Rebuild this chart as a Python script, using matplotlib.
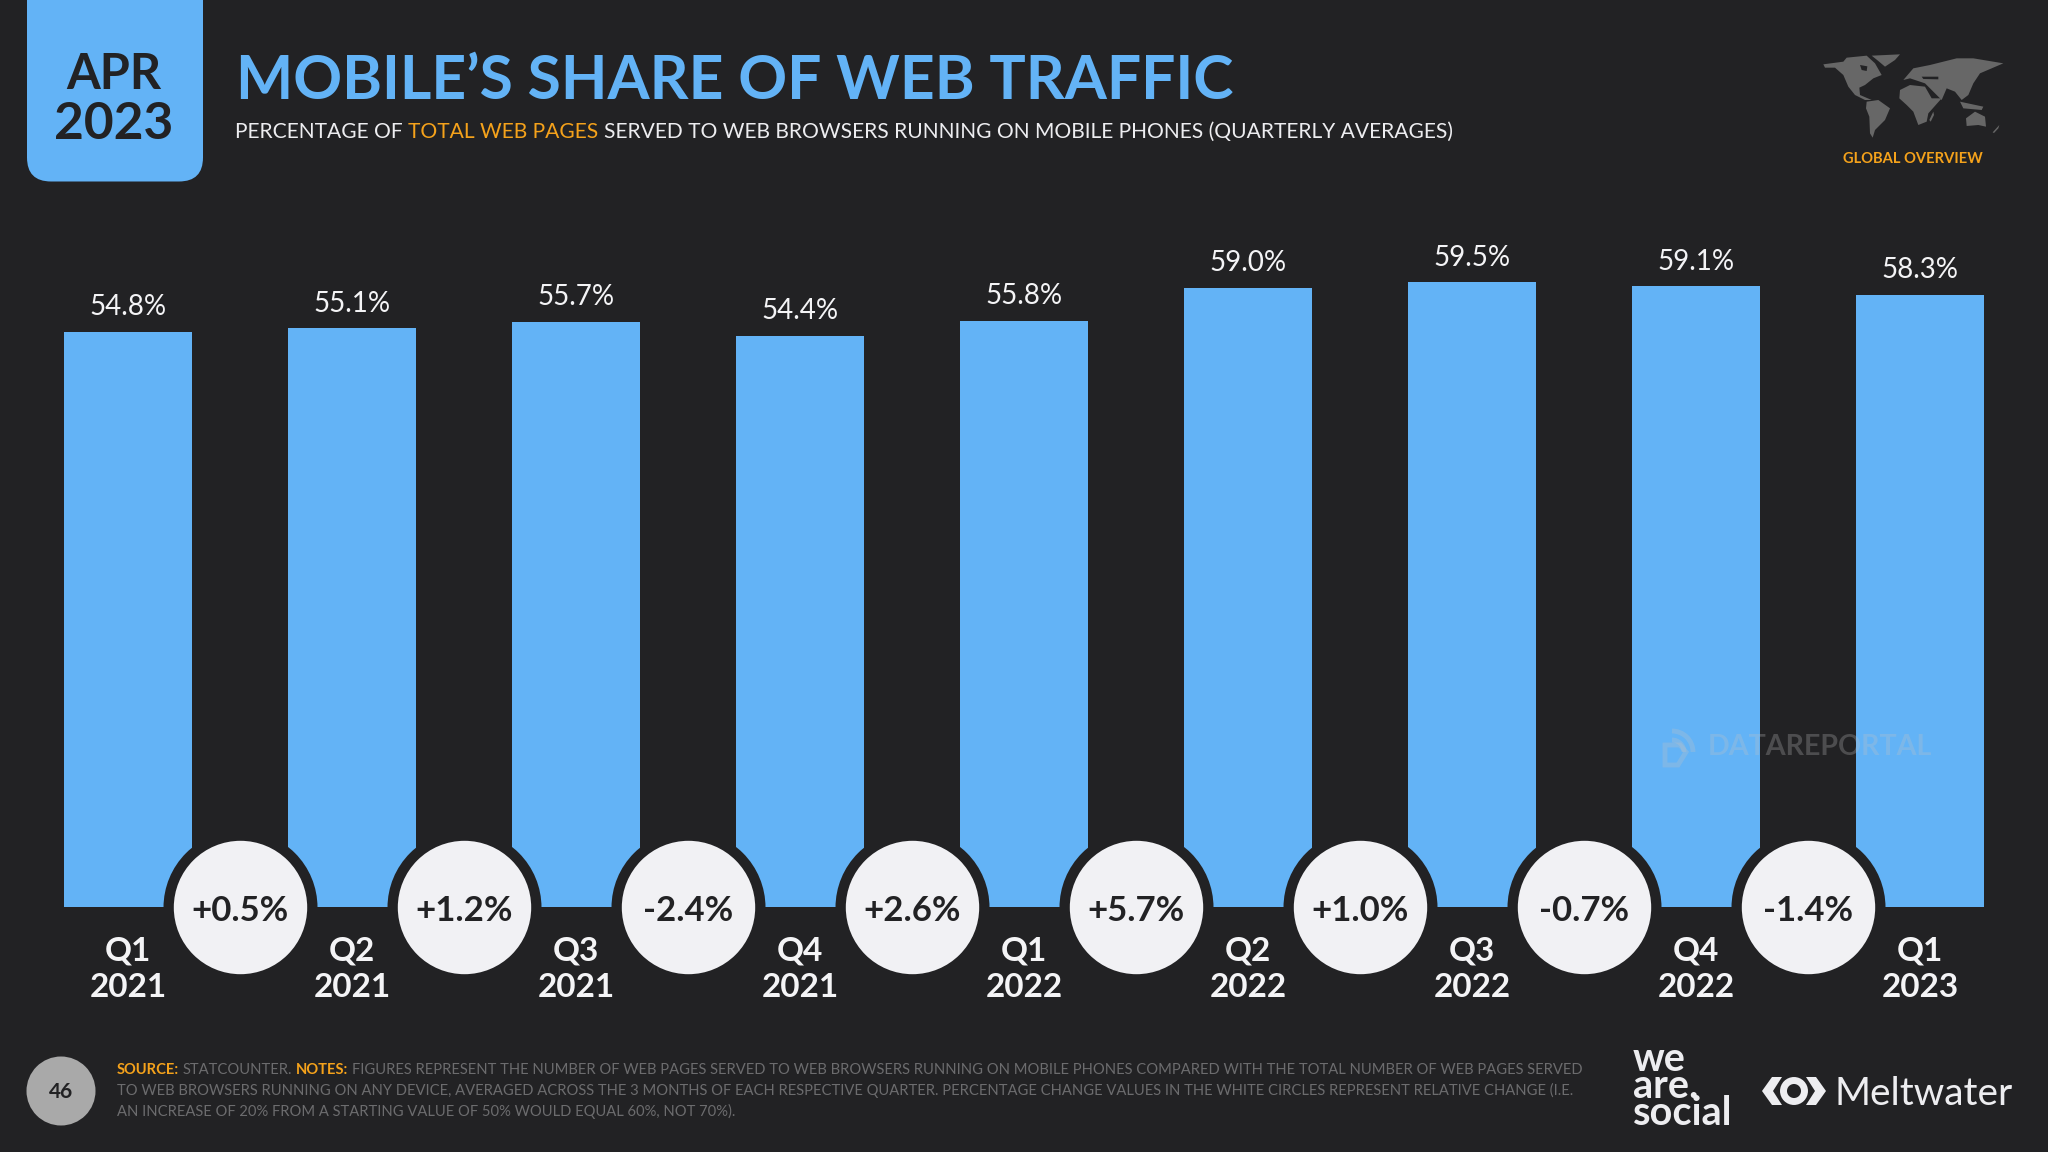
import matplotlib
matplotlib.use("Agg")
import matplotlib.pyplot as plt
from matplotlib.patches import FancyBboxPatch, Polygon, Arc, Circle

BG = "#222224"
BLUE = "#63B3F6"
ORANGE = "#F5A21B"
DARK = "#222224"

quarters = ["Q1", "Q2", "Q3", "Q4", "Q1", "Q2", "Q3", "Q4", "Q1"]
years = ["2021", "2021", "2021", "2021", "2022", "2022", "2022", "2022", "2023"]
share = [54.8, 55.1, 55.7, 54.4, 55.8, 59.0, 59.5, 59.1, 58.3]
changes = ["+0.5%", "+1.2%", "-2.4%", "+2.6%", "+5.7%", "+1.0%", "-0.7%", "-1.4%"]

plt.rcParams["font.family"] = ["Lato", "DejaVu Sans"]

fig = plt.figure(figsize=(20.48, 11.52), dpi=100, facecolor=BG)

# chart axes: 224 px per category, 10.5 px per percentage point, baseline at y=907
W, H = 2048.0, 1152.0
ax = fig.add_axes([16 / W, (H - 907) / H, 2016 / W, 630 / H])
ax.set_facecolor("none")
xs = list(range(len(share)))
ax.bar(xs, share, width=128 / 224, color=BLUE, linewidth=0)
ax.set_xlim(-0.5, 8.5)
ax.set_ylim(0, 60)
for s in ax.spines.values():
    s.set_visible(False)
ax.set_yticks([])
ax.set_xticks(xs, [q + "\n" + y for q, y in zip(quarters, years)])
ax.tick_params(axis="x", length=0, pad=21, labelsize=24, labelcolor="#F4F4F6")
for t in ax.get_xticklabels():
    t.set_fontweight("bold")
    t.set_linespacing(1.33)

for x, v in zip(xs, share):
    ax.annotate(f"{v:.1f}%", xy=(x, v), xytext=(0, 12), textcoords="offset points",
                ha="center", va="baseline", fontsize=20, color="#F4F4F6")

# change bubbles sit on the baseline between the bars
mids = [x + 0.5 for x in xs[:-1]]
ax.scatter(mids, [0] * len(mids), s=(2 * 77 * 0.72) ** 2, color=BG, linewidth=0, clip_on=False, zorder=3)
ax.scatter(mids, [0] * len(mids), s=(2 * 66.7 * 0.72) ** 2, color="#F1F1F4", linewidth=0, clip_on=False, zorder=4)
for x, c in zip(mids, changes):
    ax.annotate(c, xy=(x, 0), xytext=(0, -0.7), textcoords="offset points", ha="center", va="center_baseline",
                fontsize=25, fontweight="bold", color=DARK, zorder=5)

# everything else is placed in pixels of the slide
ov = fig.add_axes([0, 0, 1, 1], facecolor="none")
ov.set_xlim(0, W)
ov.set_ylim(H, 0)
ov.axis("off")


def put_runs(x, y, runs, size):
    # runs of (text, colour, weight) one after another on a baseline
    r = fig.canvas.get_renderer()
    space = size * 0.26 / 0.72
    for txt, col, wt in runs:
        t = ov.text(x, y, txt, color=col, fontsize=size, fontweight=wt, va="baseline", ha="left")
        x += t.get_window_extent(r).width + space


ov.add_patch(FancyBboxPatch((27, -60), 176, 241.5, boxstyle="round,pad=0,rounding_size=24",
                            facecolor=BLUE, linewidth=0))
ov.text(113.5, 89, "APR", ha="center", va="baseline", fontsize=35, fontweight="bold", color=DARK)
ov.text(113.5, 139, "2023", ha="center", va="baseline", fontsize=37, fontweight="bold", color=DARK)
ov.text(236, 99, "MOBILE’S SHARE OF WEB TRAFFIC", ha="left", va="baseline", fontsize=43.7,
        fontweight="bold", color=BLUE)
put_runs(235, 138, [("PERCENTAGE OF", "#EDEDF0", "normal"), ("TOTAL WEB PAGES", ORANGE, "normal"),
                    ("SERVED TO WEB BROWSERS RUNNING ON MOBILE PHONES (QUARTERLY AVERAGES)", "#EDEDF0", "normal")], 15.13)

# world map, rough outline
land = [
    [(40, 58), (100, 50), (110, 38), (170, 32), (195, 55), (215, 90), (190, 100), (165, 120), (148, 128), (150, 150),
     (185, 165), (165, 165), (135, 150), (115, 125), (100, 90), (75, 68), (45, 68)],
    [(185, 32), (270, 28), (255, 45), (225, 65), (205, 48)],
    [(170, 170), (205, 165), (240, 190), (225, 225), (195, 255), (188, 278), (180, 265), (178, 215), (168, 190)],
    [(270, 135), (300, 120), (345, 125), (365, 160), (395, 160), (355, 205), (350, 230), (325, 240), (310, 200),
     (290, 180), (268, 160)],
    [(280, 105), (310, 70), (360, 60), (440, 40), (490, 40), (580, 55), (545, 70), (510, 85), (490, 115), (475, 150),
     (455, 165), (435, 140), (410, 130), (395, 165), (360, 130), (345, 115), (300, 100)],
    [(468, 220), (495, 200), (525, 215), (528, 245), (505, 240), (470, 243)],
    [(450, 170), (520, 185), (515, 195), (460, 190)],
    [(358, 225), (370, 200), (372, 210), (362, 230)],
    [(548, 262), (568, 240), (565, 250), (552, 264)],
]
for part in land:
    ov.add_patch(Polygon([(1810 + a / 3, 45 + b / 3) for a, b in part], facecolor="#676767", linewidth=0))
for hole in ([(150, 60), (172, 64), (170, 78), (155, 75)], [(335, 95), (385, 95), (385, 103), (340, 102)]):
    ov.add_patch(Polygon([(1810 + a / 3, 45 + b / 3) for a, b in hole], facecolor=BG, linewidth=0))
ov.text(1912.5, 163, "GLOBAL OVERVIEW", ha="center", va="baseline", fontsize=10.6, fontweight="bold", color=ORANGE)

# watermark
MARK = "#C4C4C4"
ov.text(1708, 755, "DATAREPORTAL", ha="left", va="baseline", fontsize=20.6, fontweight="bold", color=MARK, alpha=0.27)
ov.add_patch(Polygon([(1665, 745), (1680, 745), (1686, 752), (1678, 765), (1665, 765)], fill=False,
                     edgecolor=MARK, linewidth=3.5, alpha=0.27))
for rad in (24, 42):
    ov.add_patch(Arc((1672, 752), rad, rad, theta1=270, theta2=360, edgecolor=MARK, linewidth=3.5, alpha=0.27))

# footer
ov.add_patch(Circle((61, 1091), 34.5, facecolor="#A9A9A9", linewidth=0))
ov.text(61, 1098, "46", ha="center", va="baseline", fontsize=15, fontweight="bold", color=DARK)
GREY = "#6C6C6E"
put_runs(117, 1074, [("SOURCE:", ORANGE, "bold"), ("STATCOUNTER.", GREY, "normal"), ("NOTES:", ORANGE, "bold"),
                     ("FIGURES REPRESENT THE NUMBER OF WEB PAGES SERVED TO WEB BROWSERS RUNNING ON MOBILE PHONES "
                      "COMPARED WITH THE TOTAL NUMBER OF WEB PAGES SERVED", GREY, "normal")], 10.6)
put_runs(117, 1095, [("TO WEB BROWSERS RUNNING ON ANY DEVICE, AVERAGED ACROSS THE 3 MONTHS OF EACH RESPECTIVE QUARTER. "
                      "PERCENTAGE CHANGE VALUES IN THE WHITE CIRCLES REPRESENT RELATIVE CHANGE (I.E.", GREY, "normal")], 10.6)
put_runs(117, 1116, [("AN INCREASE OF 20% FROM A STARTING VALUE OF 50% WOULD EQUAL 60%, NOT 70%).", GREY, "normal")], 10.6)

# logos
LOGO = "#EDEDF0"
ov.text(1633, 1125, "we\nare.\nsocial", ha="left", va="baseline", fontsize=28.5, fontweight="bold", color=LOGO,
        linespacing=0.66)
ov.add_patch(Polygon([(1772, 1077), (1762, 1091), (1772, 1105), (1782, 1105), (1773, 1091), (1782, 1077)],
                     facecolor=LOGO, linewidth=0))
ov.add_patch(Polygon([(1816, 1077), (1826, 1091), (1816, 1105), (1806, 1105), (1815, 1091), (1806, 1077)],
                     facecolor=LOGO, linewidth=0))
ov.add_patch(Circle((1794, 1091), 10.5, facecolor="none", edgecolor=LOGO, linewidth=5))
ov.text(1834, 1105, "Meltwater", ha="left", va="baseline", fontsize=28, color=LOGO)

fig.savefig("out.png", dpi=100, facecolor=BG)
